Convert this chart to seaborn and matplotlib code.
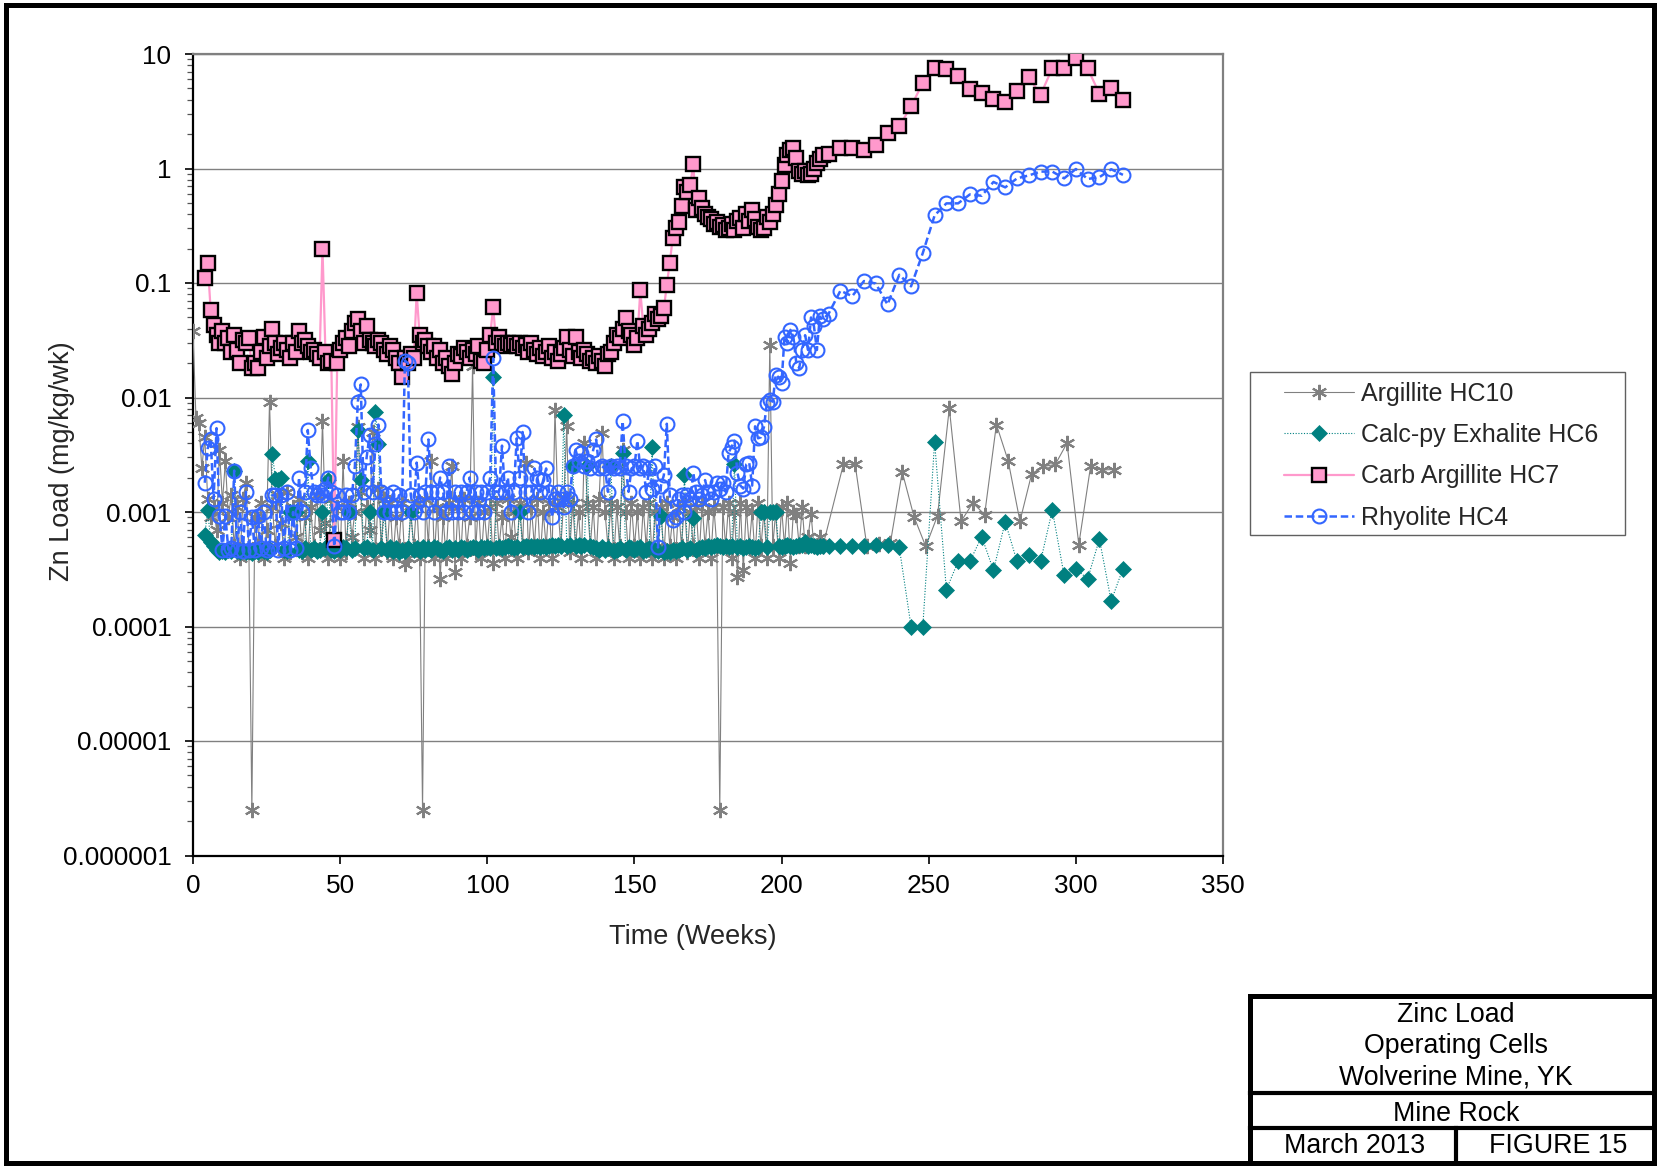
import numpy as np
import pandas as pd
import matplotlib
matplotlib.use("Agg")
import matplotlib.pyplot as plt
import seaborn as sns
from matplotlib.lines import Line2D
from matplotlib.patches import Rectangle
from matplotlib.ticker import FixedLocator, LogLocator, NullFormatter

sns.set_style("white")
plt.rcParams['font.family'] = ['Liberation Sans', 'DejaVu Sans']

# ---------------- data ----------------
series_names = ["Argillite HC10", "Calc-py Exhalite HC6", "Carb Argillite HC7", "Rhyolite HC4"]

# weekly readings: HC10 from week 0, others from week 4, all through week 214
hc10_start = 0
hc10_dense = [
    0.038, 0.0066, 0.006, 0.0024, 0.0045, 0.0013, 0.0009, 0.0011, 0.0007, 0.0035,
    0.0012, 0.0028, 0.0009, 0.0014, 0.0005, 0.0011, 0.0004, 0.0013, 0.0018, 0.00045,
    0.0000025, 0.0009, 0.0005, 0.0012, 0.0004, 0.0007, 0.0092, 0.0011, 0.0005, 0.0014,
    0.0008, 0.0004, 0.0015, 0.00045, 0.0011, 0.0006, 0.0013, 0.00045, 0.0009, 0.0004,
    0.0011, 0.0005, 0.0014, 0.0007, 0.0062, 0.0008, 0.0004, 0.0013, 0.0005, 0.0011,
    0.0004, 0.0028, 0.00045, 0.0012, 0.0006, 0.001, 0.0055, 0.0015, 0.0004, 0.0011,
    0.0007, 0.005, 0.0004, 0.0016, 0.0005, 0.0013, 0.00045, 0.0012, 0.0004, 0.0009,
    0.0005, 0.0012, 0.00035, 0.0004, 0.001, 0.0005, 0.0012, 0.0004, 0.0000025, 0.0013,
    0.0005, 0.0028, 0.0004, 0.0011, 0.00026, 0.0009, 0.0004, 0.0012, 0.0025, 0.0003,
    0.0011, 0.0004, 0.0013, 0.0005, 0.0009, 0.019, 0.00045, 0.0012, 0.0004, 0.001,
    0.0005, 0.0011, 0.00036, 0.0012, 0.0005, 0.0009, 0.0004, 0.0013, 0.0006, 0.001,
    0.0004, 0.0012, 0.0005, 0.0027, 0.00045, 0.0011, 0.0005, 0.0013, 0.0004, 0.001,
    0.0005, 0.0012, 0.0004, 0.0078, 0.0011, 0.0005, 0.0013, 0.0056, 0.00045, 0.0012,
    0.0005, 0.001, 0.0004, 0.004, 0.0012, 0.0005, 0.0011, 0.0004, 0.0013, 0.0049,
    0.001, 0.0005, 0.0012, 0.0004, 0.0011, 0.0005, 0.0035, 0.001, 0.0004, 0.0012,
    0.0005, 0.001, 0.0004, 0.0011, 0.0005, 0.0012, 0.0004, 0.001, 0.0005, 0.0011,
    0.0004, 0.0012, 0.0005, 0.0009, 0.0004, 0.0011, 0.0005, 0.0012, 0.00045, 0.001,
    0.0005, 0.0011, 0.0004, 0.0012, 0.0005, 0.001, 0.0004, 0.0011, 0.0005, 0.0000025,
    0.0011, 0.0005, 0.0012, 0.0004, 0.001, 0.00027, 0.0012, 0.00031, 0.0011, 0.0005,
    0.001, 0.0004, 0.0012, 0.0005, 0.001, 0.0004, 0.029, 0.0005, 0.001, 0.0004,
    0.0011, 0.0005, 0.0012, 0.00036, 0.001, 0.00095, 0.0005, 0.0011, 0.0005, 0.0006,
    0.00097, 0.0005, 0.0005, 0.0006, 0.0005,
]
hc10_late_weeks = [221, 225, 229, 233, 237, 241, 245, 249, 253, 257, 261, 265,
                   269, 273, 277, 281, 285, 289, 293, 297, 301, 305, 309, 313]
hc10_late = [0.0026, 0.0026, 0.0005, 0.00053, 0.00054, 0.00224, 0.00091, 0.0005,
             0.00093, 0.0081, 0.00083, 0.0012, 0.00095, 0.0058, 0.0028, 0.00083,
             0.00216, 0.0025, 0.0026, 0.004, 0.00052, 0.0025, 0.00233, 0.00235]

hc6_start = 4
hc6_dense = [
    0.00063, 0.00105, 0.00055, 0.0005, 0.00047, 0.00045, 0.00046, 0.00045, 0.00047, 0.00046,
    0.0023, 0.00046, 0.00045, 0.00047, 0.00045, 0.00046, 0.00044, 0.00046, 0.00045, 0.00047,
    0.00046, 0.00045, 0.00047, 0.0032, 0.00195, 0.0019, 0.002, 0.00047, 0.00046, 0.001,
    0.00098, 0.001, 0.00047, 0.00046, 0.00048, 0.0028, 0.00047, 0.00048, 0.00046, 0.00047,
    0.001, 0.00048, 0.0019, 0.00047, 0.00046, 0.00048, 0.00047, 0.00049, 0.00048, 0.001,
    0.00047, 0.00048, 0.0052, 0.0019, 0.00048, 0.00049, 0.001, 0.00047, 0.0075, 0.0039,
    0.00048, 0.001, 0.00047, 0.00049, 0.00046, 0.00048, 0.00045, 0.00047, 0.00046, 0.00048,
    0.001, 0.00047, 0.00048, 0.00046, 0.00049, 0.00047, 0.00048, 0.00047, 0.00049, 0.00048,
    0.00047, 0.00046, 0.00048, 0.00049, 0.00047, 0.00048, 0.00047, 0.00049, 0.00048, 0.00047,
    0.00048, 0.00049, 0.00048, 0.00047, 0.00049, 0.00048, 0.00049, 0.00048, 0.015, 0.00048,
    0.00049, 0.00048, 0.00049, 0.0005, 0.00049, 0.00048, 0.00049, 0.001, 0.00049, 0.0005,
    0.00049, 0.0005, 0.00049, 0.0005, 0.00049, 0.0005, 0.00049, 0.0005, 0.00051, 0.0005,
    0.00051, 0.0005, 0.0071, 0.0005, 0.00051, 0.0025, 0.0005, 0.00051, 0.0005, 0.00052,
    0.0025, 0.0005, 0.00049, 0.00048, 0.00047, 0.00049, 0.00047, 0.00048, 0.0025, 0.00046,
    0.00047, 0.00048, 0.0033, 0.00047, 0.00049, 0.00048, 0.00047, 0.00048, 0.00049, 0.00046,
    0.00047, 0.00048, 0.0037, 0.00047, 0.00046, 0.00093, 0.00045, 0.00046, 0.00045, 0.00047,
    0.00046, 0.00047, 0.00048, 0.0021, 0.00047, 0.00048, 0.00089, 0.00047, 0.00048, 0.00049,
    0.00048, 0.0005, 0.00049, 0.0005, 0.00051, 0.0005, 0.00049, 0.0005, 0.00049, 0.0005,
    0.0026, 0.00049, 0.0005, 0.00048, 0.00049, 0.0005, 0.00049, 0.00048, 0.00049, 0.00099,
    0.001, 0.00049, 0.00099, 0.001, 0.00099, 0.0005, 0.00049, 0.0005, 0.00051, 0.0005,
    0.00049, 0.0005, 0.00051, 0.00052, 0.00055, 0.0005, 0.00051, 0.0005, 0.00049, 0.0005,
    0.0005,
]
late_weeks = [216, 220, 224, 228, 232, 236, 240, 244, 248, 252, 256, 260, 264,
              268, 272, 276, 280, 284, 288, 292, 296, 300, 304, 308, 312, 316]
hc6_late = [0.0005, 0.0005, 0.0005, 0.0005, 0.00051, 0.00052, 0.00049, 0.0001, 0.0001,
            0.0041, 0.00021, 0.00037, 0.00037, 0.00061, 0.00031, 0.00082, 0.00037,
            0.00042, 0.00037, 0.00104, 0.00028, 0.00032, 0.00026, 0.00058, 0.000167, 0.00032]

hc7_start = 4
hc7_dense = [
    0.11, 0.15, 0.058, 0.043, 0.035, 0.03, 0.038, 0.03, 0.033, 0.025,
    0.035, 0.026, 0.02, 0.032, 0.03, 0.033, 0.018, 0.02, 0.018, 0.025,
    0.034, 0.022, 0.028, 0.04, 0.03, 0.024, 0.027, 0.03, 0.026, 0.022,
    0.03, 0.025, 0.038, 0.03, 0.032, 0.028, 0.025, 0.026, 0.024, 0.022,
    0.2, 0.025, 0.02, 0.021, 0.00057, 0.02, 0.026, 0.03, 0.033, 0.028,
    0.038, 0.045, 0.048, 0.038, 0.03, 0.042, 0.032, 0.03, 0.028, 0.032,
    0.03, 0.026, 0.024, 0.028, 0.026, 0.022, 0.02, 0.015, 0.022, 0.02,
    0.024, 0.022, 0.082, 0.035, 0.03, 0.032, 0.028, 0.025, 0.028, 0.022,
    0.026, 0.02, 0.022, 0.019, 0.016, 0.02, 0.024, 0.023, 0.027, 0.025,
    0.022, 0.026, 0.024, 0.028, 0.021, 0.02, 0.026, 0.035, 0.062, 0.03,
    0.034, 0.03, 0.028, 0.03, 0.029, 0.03, 0.028, 0.03, 0.027, 0.029,
    0.025, 0.03, 0.026, 0.024, 0.027, 0.023, 0.025, 0.028, 0.022, 0.025,
    0.021, 0.024, 0.027, 0.034, 0.026, 0.023, 0.034, 0.025, 0.022, 0.026,
    0.024, 0.021, 0.022, 0.02, 0.023, 0.021, 0.019, 0.024, 0.025, 0.03,
    0.035, 0.033, 0.04, 0.049, 0.038, 0.035, 0.029, 0.033, 0.086, 0.042,
    0.035, 0.04, 0.045, 0.054, 0.048, 0.052, 0.06, 0.096, 0.15, 0.245,
    0.30, 0.34, 0.47, 0.69, 0.62, 0.72, 1.1, 0.43, 0.55, 0.45,
    0.4, 0.38, 0.36, 0.33, 0.34, 0.31, 0.32, 0.29, 0.3, 0.33,
    0.29, 0.35, 0.37, 0.3, 0.4, 0.35, 0.43, 0.36, 0.31, 0.29,
    0.3, 0.38, 0.34, 0.4, 0.48, 0.6, 0.77, 1.07, 1.3, 1.45,
    1.5, 1.23, 0.95, 0.9, 0.95, 0.88, 0.9, 1.0, 1.11, 1.2,
    1.31,
]
hc7_late = [1.35, 1.51, 1.51, 1.45, 1.62, 2.05, 2.34, 3.49, 5.6, 7.6, 7.4, 6.4, 4.96,
            4.6, 4.05, 3.84, 4.75, 6.27, 4.4, 7.5, 7.6, 9.2, 7.5, 4.5, 5.0, 4.0]

hc4_start = 4
hc4_dense = [
    0.0018, 0.0036, 0.0043, 0.0013, 0.0054, 0.00093, 0.00047, 0.00093, 0.00047, 0.00048,
    0.0023, 0.00047, 0.001, 0.00046, 0.0015, 0.00047, 0.0009, 0.00047, 0.00093, 0.00048,
    0.001, 0.00047, 0.00048, 0.0014, 0.0014, 0.00047, 0.0014, 0.00048, 0.0015, 0.00047,
    0.001, 0.00048, 0.002, 0.001, 0.0015, 0.0052, 0.0024, 0.0015, 0.0014, 0.0015,
    0.0014, 0.0016, 0.002, 0.0015, 0.0005, 0.0014, 0.001, 0.001, 0.0014, 0.001,
    0.0014, 0.0025, 0.0092, 0.013, 0.0015, 0.003, 0.0047, 0.0015, 0.0039, 0.0058,
    0.0015, 0.001, 0.0014, 0.001, 0.0015, 0.001, 0.0014, 0.001, 0.021, 0.02,
    0.0014, 0.001, 0.0027, 0.0014, 0.001, 0.0015, 0.0043, 0.0015, 0.001, 0.0015,
    0.002, 0.0015, 0.001, 0.0025, 0.001, 0.0015, 0.001, 0.0015, 0.001, 0.0015,
    0.002, 0.001, 0.0015, 0.001, 0.0015, 0.001, 0.0015, 0.002, 0.022, 0.0015,
    0.0015, 0.0038, 0.0015, 0.002, 0.001, 0.0015, 0.0044, 0.002, 0.005, 0.0015,
    0.001, 0.0015, 0.0024, 0.002, 0.0015, 0.0019, 0.0024, 0.0015, 0.0009, 0.0013,
    0.0015, 0.0013, 0.0011, 0.0015, 0.0013, 0.0025, 0.0035, 0.0028, 0.0033, 0.0025,
    0.0028, 0.0024, 0.0035, 0.0043, 0.0024, 0.0025, 0.0024, 0.0015, 0.0025, 0.0024,
    0.0025, 0.0024, 0.0062, 0.0025, 0.0015, 0.0024, 0.0025, 0.0042, 0.0024, 0.0025,
    0.0015, 0.0024, 0.0016, 0.0025, 0.00049, 0.0017, 0.0021, 0.0059, 0.0014, 0.00085,
    0.0009, 0.0013, 0.0014, 0.001, 0.0014, 0.0013, 0.0022, 0.0015, 0.0013, 0.0014,
    0.0019, 0.0015, 0.0013, 0.0015, 0.0018, 0.0016, 0.0018, 0.0015, 0.0033, 0.0037,
    0.0042, 0.0022, 0.0017, 0.0016, 0.0026, 0.0027, 0.0017, 0.0056, 0.0044, 0.0045,
    0.0055, 0.0089, 0.0095, 0.0092, 0.0158, 0.015, 0.0135, 0.034, 0.03, 0.039,
    0.034, 0.02, 0.018, 0.026, 0.035, 0.026, 0.05, 0.042, 0.026, 0.051,
    0.048,
]
hc4_late = [0.054, 0.0857, 0.0767, 0.104, 0.099, 0.0649, 0.118, 0.0935, 0.183, 0.389,
            0.496, 0.496, 0.594, 0.578, 0.763, 0.684, 0.82, 0.87, 0.94, 0.94, 0.82,
            0.99, 0.81, 0.84, 0.985, 0.88]

y_ticks = [1e-6, 1e-5, 1e-4, 1e-3, 1e-2, 1e-1, 1, 10]
y_tick_labels = ["0.000001", "0.00001", "0.0001", "0.001", "0.01", "0.1", "1", "10"]
x_ticks = [0, 50, 100, 150, 200, 250, 300, 350]


def make_df(start, dense, lweeks, lvals):
    weeks = list(range(start, start + len(dense))) + list(lweeks)
    return pd.DataFrame({"Week": weeks, "Load": list(dense) + list(lvals)})


df10 = make_df(hc10_start, hc10_dense, hc10_late_weeks, hc10_late)
df6 = make_df(hc6_start, hc6_dense, late_weeks[:len(hc6_late)], hc6_late)
df7 = make_df(hc7_start, hc7_dense, late_weeks, hc7_late)
df4 = make_df(hc4_start, hc4_dense, late_weeks, hc4_late)

# ---------------- figure ----------------
W, H = 1658, 1170
fig = plt.figure(figsize=(W / 100, H / 100), dpi=100)
fig.patch.set_facecolor("white")


def fx(px):
    return px / W


def fy(py):
    return 1 - py / H


ax = fig.add_axes([fx(193), fy(855.5), (1223 - 193) / W, (855.5 - 54) / H])
ax.set_yscale("log")

styles = [
    dict(color="#808080", lw=0.8, ls="-", marker=(6, 2, 0), ms=11, mew=1.5,
         mec="#808080", mfc="#808080"),
    dict(color="#008080", lw=0.8, ls=(0, (1, 1.5)), marker="D", ms=8.5, mew=0.5,
         mec="#008080", mfc="#008080"),
    dict(color="#FF99CC", lw=1.6, ls="-", marker="s", ms=10, mew=1.7,
         mec="#000000", mfc="#FF99CC"),
    dict(color="#3366FF", lw=1.8, ls=(0, (3, 1.5)), marker="o", ms=10, mew=1.5,
         mec="#3366FF", mfc="none"),
]
frames = [df10, df6, df7, df4]
for i, (d, st) in enumerate(zip(frames, styles)):
    sns.lineplot(data=d, x="Week", y="Load", ax=ax, estimator=None, sort=False,
                 legend=False, zorder=3 + i, **st)

ax.set_xlim(0, 350)
ax.set_ylim(1e-6, 10)
ax.xaxis.set_major_locator(FixedLocator(x_ticks))
ax.set_xticklabels([str(t) for t in x_ticks])
ax.yaxis.set_major_locator(FixedLocator(y_ticks))
ax.set_yticklabels(y_tick_labels)
ax.yaxis.set_minor_locator(LogLocator(base=10, subs=tuple(range(2, 10)), numticks=100))
ax.yaxis.set_minor_formatter(NullFormatter())
ax.xaxis.set_minor_locator(FixedLocator([]))

ax.tick_params(axis="y", which="major", direction="out", length=6, width=1.2,
               labelsize=18.8, pad=9.5, left=True, colors="black")
ax.tick_params(axis="y", which="minor", direction="out", length=4, width=0.9,
               left=True, color="#555555")
ax.tick_params(axis="x", which="major", direction="out", length=5.5, width=1.2,
               labelsize=18.8, pad=7.5, bottom=True, colors="black")

ax.grid(False)
ax.yaxis.grid(True, which="major", color="#808080", lw=1.0, zorder=0)
ax.set_axisbelow(True)

for s in ["left", "bottom"]:
    ax.spines[s].set_color("black")
    ax.spines[s].set_linewidth(1.6)
for s in ["top", "right"]:
    ax.spines[s].set_color("#808080")
    ax.spines[s].set_linewidth(1.6)

ax.set_xlabel("Time (Weeks)", fontsize=19.5)
ax.xaxis.set_label_coords(0.485, -0.085)
ax.set_ylabel("Zn Load (mg/kg/wk)", fontsize=19.5)
ax.yaxis.set_label_coords(-0.115, 0.4916)

# ---------------- legend ----------------
handles = [Line2D([], [], **st) for st in styles]
fig.add_artist(Rectangle((fx(1250), fy(535)), fx(1625) - fx(1250), fy(372) - fy(535),
                         transform=fig.transFigure, fill=False, ec="#606060", lw=1.0))
fig.legend(handles, series_names, loc="upper left",
           bbox_to_anchor=(fx(1284), fy(382)), frameon=False, fontsize=18,
           handlelength=2.8, handletextpad=0.3, labelspacing=0.69, borderpad=0,
           borderaxespad=0, numpoints=1)

# ---------------- outer frame & title block ----------------
fig.add_artist(Rectangle((fx(6), fy(1163)), fx(1654) - fx(6), fy(5) - fy(1163),
                         transform=fig.transFigure, fill=False, ec="black", lw=3.6))


def hline(y, x0, x1, lw):
    fig.add_artist(Line2D([fx(x0), fx(x1)], [fy(y), fy(y)], transform=fig.transFigure,
                          color="black", lw=lw, solid_capstyle="projecting"))


def vline(x, y0, y1, lw):
    fig.add_artist(Line2D([fx(x), fx(x)], [fy(y0), fy(y1)], transform=fig.transFigure,
                          color="black", lw=lw, solid_capstyle="projecting"))


hline(996, 1250, 1654, 3.6)
vline(1250, 996, 1163, 3.6)
hline(1093, 1250, 1654, 3.0)
hline(1128, 1250, 1654, 3.0)
vline(1456, 1128, 1163, 3.0)

cx = 1456
tb = dict(fontsize=19.3, ha="center", va="baseline", color="black")
fig.text(fx(cx), fy(1022), "Zinc Load", **tb)
fig.text(fx(cx), fy(1053), "Operating Cells", **tb)
fig.text(fx(cx), fy(1085), "Wolverine Mine, YK", **tb)
fig.text(fx(cx), fy(1121), "Mine Rock", **tb)
fig.text(fx(1354.5), fy(1153), "March 2013", **tb)
fig.text(fx(1558.5), fy(1153), "FIGURE 15", **tb)

fig.savefig("out.png", dpi=100, facecolor="white")
